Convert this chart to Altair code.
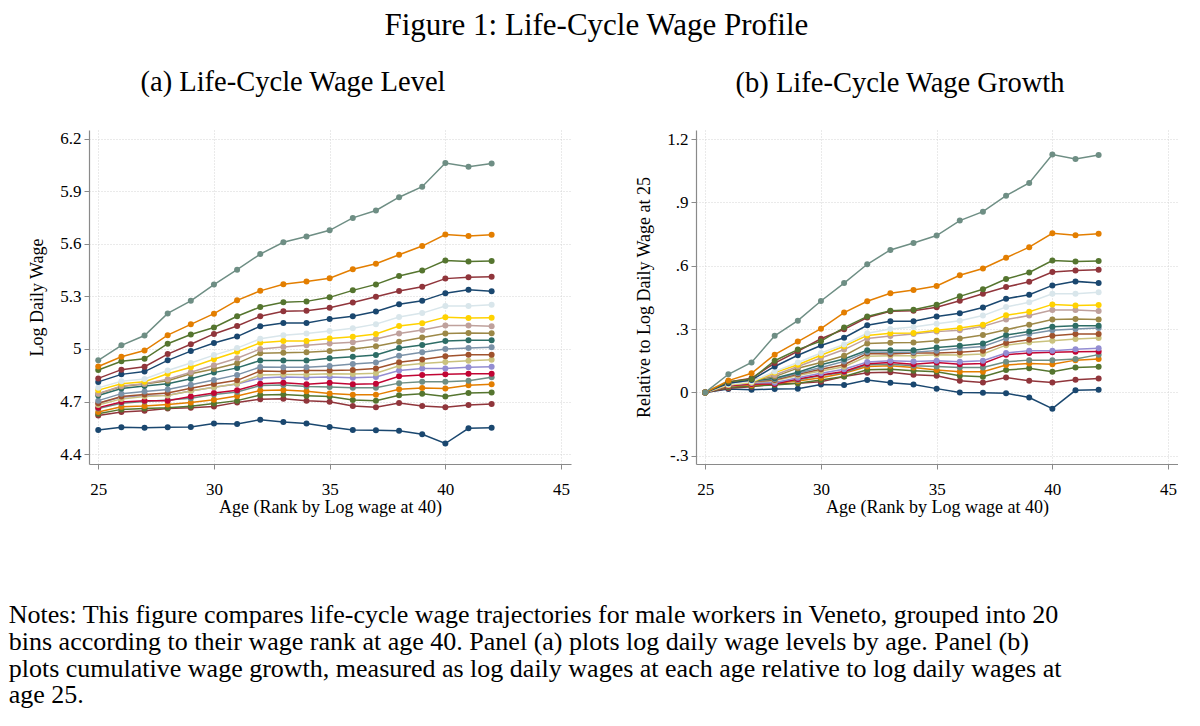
import altair as alt
import pandas as pd

ages = list(range(25, 43))
bin_names = [f"Bin {i:02d}" for i in range(1, 21)]
colors = ["#1a476f", "#90353b", "#55752f", "#e37e00", "#6e8e84",
          "#c10534", "#938dd2", "#cac27e", "#a0522d", "#7b92a8",
          "#2d6d66", "#9c8847", "#bfa19c", "#ffd200", "#d9e6eb",
          "#1a476f", "#90353b", "#55752f", "#e37e00", "#6e8e84"]

# log daily wage at age 25, per bin (rank by log wage at 40, lowest first)
base25 = [4.537, 4.620, 4.630, 4.640, 4.660, 4.665, 4.690, 4.680, 4.690, 4.705,
          4.734, 4.744, 4.744, 4.765, 4.778, 4.812, 4.832, 4.880, 4.900, 4.935]

# log daily wage relative to age 25, ages 25..42
g01 = [0, .016, .013, .016, .018, .038, .035, .059, .046, .038, .018, .000, -.001, -.004, -.024, -.077, .010, .013]
g02 = [0, .020, .027, .040, .044, .051, .075, .093, .096, .084, .079, .055, .047, .071, .055, .047, .060, .066]
g03 = [0, .025, .030, .035, .043, .059, .075, .107, .110, .103, .098, .079, .074, .106, .114, .098, .118, .122]
g04 = [0, .030, .035, .043, .054, .070, .091, .123, .126, .118, .106, .098, .098, .130, .137, .134, .153, .158]
g05 = [0, .030, .040, .048, .059, .080, .094, .131, .134, .126, .123, .118, .118, .145, .153, .153, .158, .179]
g06 = [0, .032, .040, .040, .064, .083, .099, .136, .142, .134, .142, .134, .137, .179, .187, .190, .193, .194]
g07 = [0, .035, .045, .046, .070, .091, .110, .144, .150, .147, .150, .145, .150, .187, .198, .198, .205, .209]
g08 = [0, .035, .048, .055, .080, .102, .122, .171, .174, .174, .179, .177, .182, .224, .237, .245, .253, .258]
g09 = [0, .038, .050, .059, .086, .110, .131, .184, .182, .187, .187, .190, .198, .234, .250, .269, .277, .277]
g10 = [0, .040, .052, .064, .091, .118, .147, .192, .190, .190, .198, .209, .218, .256, .277, .295, .300, .305]
g11 = [0, .040, .054, .067, .096, .131, .158, .200, .200, .200, .213, .221, .232, .272, .289, .311, .316, .316]
g12 = [0, .042, .056, .075, .115, .142, .174, .232, .235, .237, .245, .256, .272, .297, .321, .345, .348, .346]
g13 = [0, .045, .058, .083, .123, .163, .203, .256, .267, .277, .288, .295, .313, .345, .364, .390, .390, .386]
g14 = [0, .036, .048, .094, .131, .176, .219, .270, .280, .281, .295, .305, .321, .366, .382, .417, .412, .414]
g15 = [0, .038, .051, .099, .142, .187, .227, .280, .300, .310, .325, .340, .364, .405, .427, .467, .467, .475]
g16 = [0, .043, .059, .123, .176, .222, .259, .318, .337, .337, .360, .375, .402, .444, .463, .507, .526, .518]
g17 = [0, .050, .067, .139, .195, .254, .299, .355, .384, .387, .403, .434, .467, .499, .524, .570, .578, .581]
g18 = [0, .050, .064, .150, .203, .243, .307, .360, .387, .392, .415, .455, .489, .537, .568, .625, .620, .623]
g19 = [0, .056, .091, .179, .241, .302, .378, .432, .470, .485, .504, .555, .587, .638, .688, .754, .745, .752]
g20 = [0, .086, .142, .268, .340, .433, .518, .607, .675, .708, .743, .814, .856, .932, .992, 1.127, 1.106, 1.125]
growth = [g01, g02, g03, g04, g05, g06, g07, g08, g09, g10,
          g11, g12, g13, g14, g15, g16, g17, g18, g19, g20]

x_ticks = [25, 30, 35, 40, 45]
level_ticks = [4.4, 4.7, 5.0, 5.3, 5.6, 5.9, 6.2]
growth_ticks = [-0.3, 0.0, 0.3, 0.6, 0.9, 1.2]

fig_title = "Figure 1: Life-Cycle Wage Profile"
title_a = "(a) Life-Cycle Wage Level"
title_b = "(b) Life-Cycle Wage Growth"
x_title = "Age (Rank by Log wage at 40)"
y_title_a = "Log Daily Wage"
y_title_b = "Relative to Log Daily Wage at 25"
notes = [
    "Notes: This figure compares life-cycle wage trajectories for male workers in Veneto, grouped into 20",
    "bins according to their wage rank at age 40. Panel (a) plots log daily wage levels by age. Panel (b)",
    "plots cumulative wage growth, measured as log daily wages at each age relative to log daily wages at",
    "age 25.",
]

rows = []
for i, name in enumerate(bin_names):
    for a, g in zip(ages, growth[i]):
        rows.append({"bin": name, "age": a, "growth": g, "level": base25[i] + g})
df = pd.DataFrame(rows)

SERIF = "Liberation Serif"
AXIS_GRAY = "#8a8a8a"


def panel(field, ydom, yvals, label_expr, ytitle, ptitle):
    x = alt.X(
        "age:Q",
        scale=alt.Scale(domain=[24.6, 45.43], nice=False, zero=False),
        axis=alt.Axis(values=x_ticks, title=x_title, format="d"),
    )
    y = alt.Y(
        f"{field}:Q",
        scale=alt.Scale(domain=ydom, nice=False, zero=False),
        axis=alt.Axis(values=yvals, labelExpr=label_expr, title=ytitle),
    )
    return (
        alt.Chart(df)
        .mark_line(strokeWidth=1.5, point=alt.OverlayMarkDef(filled=True, size=36, opacity=1))
        .encode(
            x=x,
            y=y,
            color=alt.Color("bin:N", scale=alt.Scale(domain=bin_names, range=colors), legend=None),
        )
        .properties(
            width=482,
            height=334,
            title=alt.TitleParams(ptitle, font=SERIF, fontSize=28.5, fontWeight="normal",
                                  color="black", offset=33, dx=-37),
        )
    )


pa = panel("level", [4.343, 6.251], level_ticks,
           "datum.value == 5 ? '5' : format(datum.value, '.1f')", y_title_a, title_a)
pb = panel("growth", [-0.339, 1.243], growth_ticks,
           "datum.value == 0 ? '0' : (abs(datum.value) >= 1 ? format(datum.value, '.1f') : "
           "(datum.value < 0 ? '-.' : '.') + format(abs(datum.value) * 10, '.0f'))",
           y_title_b, title_b)

top = alt.hconcat(pa, pb, spacing=64).properties(
    title=alt.TitleParams(fig_title, font=SERIF, fontSize=31, fontWeight="normal",
                          color="black", anchor="middle", offset=26, dx=-7)
)

chart = (
    alt.vconcat(top)
    .properties(
        title=alt.TitleParams(notes, orient="bottom", anchor="start", font=SERIF, fontSize=26,
                              fontWeight="normal", color="black", lineHeight=26.8, offset=86,
                              dx=-20),
        padding={"left": 0, "top": 2, "right": 0, "bottom": 0},
    )
    .configure_view(stroke=None)
    .configure_axis(
        labelFont=SERIF, labelFontSize=17, labelColor="black",
        titleFont=SERIF, titleFontSize=18, titleFontWeight="normal", titleColor="black",
        domainColor=AXIS_GRAY, tickColor=AXIS_GRAY, tickSize=5, domainWidth=1.2,
        grid=True, gridColor="#d4d4d4", gridDash=[1, 2], gridWidth=1,
    )
    .configure_axisX(labelPadding=12, titlePadding=1)
    .configure_axisY(labelPadding=3, titlePadding=13)
)

chart.save("out.html", embed_options={"renderer": "svg", "actions": False})
